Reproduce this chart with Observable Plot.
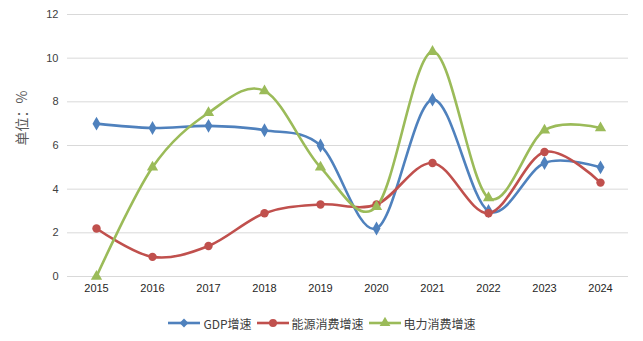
<!DOCTYPE html>
<html>
<head>
<meta charset="utf-8">
<script src="https://cdn.jsdelivr.net/npm/d3@7"></script>
<script src="https://cdn.jsdelivr.net/npm/@observablehq/plot@0.6"></script>
<style>
  html, body { margin: 0; padding: 0; background: #fff; }
  #chart { width: 643px; height: 341px; position: relative; }
  .legend { display: flex; justify-content: center; align-items: center; gap: 4px;
    font: 12px "Noto Sans CJK SC", sans-serif; color: #404040; height: 36px; padding-left: 0; }
  .legend .item { display: flex; align-items: center; gap: 2px; }
  .legend svg { display: block; }
</style>
</head>
<body>
<div id="chart"></div>
<script>
// Growth rates, %, 2015–2024
const years = ["2015","2016","2017","2018","2019","2020","2021","2022","2023","2024"];
const gdpGrowth    = [7.0, 6.8, 6.9, 6.7, 6.0, 2.2, 8.1, 3.0, 5.2, 5.0];
const energyGrowth = [2.2, 0.9, 1.4, 2.9, 3.3, 3.3, 5.2, 2.9, 5.7, 4.3];
const powerGrowth  = [0.0, 5.0, 7.5, 8.5, 5.0, 3.2, 10.3, 3.6, 6.7, 6.8];
const seriesNames  = ["GDP增速", "能源消费增速", "电力消费增速"];
const seriesColors = ["#4F81BD", "#C0504D", "#9BBB59"];
const seriesSymbols = ["diamond", "circle", "triangle"];
const yTicks = [0, 2, 4, 6, 8, 10, 12];
const yTitle = "单位：%";

const valuesBySeries = [gdpGrowth, energyGrowth, powerGrowth];
const rows = seriesNames.flatMap((name, i) =>
  years.map((year, j) => ({ series: name, year, value: valuesBySeries[i][j] })));

const plot = Plot.plot({
  width: 643,
  height: 305,
  marginLeft: 67,
  marginRight: 15,
  marginTop: 14,
  marginBottom: 29,
  style: { fontFamily: "'Liberation Sans', sans-serif", fontSize: "11px", color: "#404040", background: "#fff" },
  x: { type: "point", domain: years, padding: 0.5, label: null },
  y: { domain: [0, 12], label: null },
  color: { domain: seriesNames, range: seriesColors },
  symbol: { domain: seriesNames, range: seriesSymbols },
  marks: [
    Plot.gridY(yTicks, { stroke: "#d9d9d9", strokeOpacity: 1, strokeWidth: 1 }),
    Plot.axisY(yTicks, { tickSize: 0, tickPadding: 9, label: null, fill: "#404040" }),
    Plot.axisX({ tickSize: 0, tickPadding: 8, label: null, fill: "#262626" }),
    Plot.text([yTitle], { frameAnchor: "left", dx: -45, rotate: -90, fontSize: 14,
      fontFamily: "'Noto Sans CJK SC', sans-serif", fill: "#595959" }),
    Plot.line(rows, { x: "year", y: "value", z: "series", stroke: "series",
      curve: "cardinal", tension: 0, strokeWidth: 2.6 }),
    Plot.dot(rows, { x: "year", y: "value", fill: "series", symbol: "series", r: 4.2, stroke: "none" })
  ]
});

const chart = document.getElementById("chart");
chart.appendChild(plot);

// Legend below the chart: line swatch with the series marker, then the name
const legend = document.createElement("div");
legend.className = "legend";
seriesNames.forEach((name, i) => {
  const item = document.createElement("div");
  item.className = "item";
  const svg = d3.create("svg").attr("width", 34).attr("height", 12);
  svg.append("line").attr("x1", 1).attr("x2", 33).attr("y1", 6).attr("y2", 6)
    .attr("stroke", seriesColors[i]).attr("stroke-width", 2.6);
  const sym = { diamond: d3.symbolDiamond2, circle: d3.symbolCircle, triangle: d3.symbolTriangle }[seriesSymbols[i]];
  svg.append("path").attr("transform", "translate(17,6)")
    .attr("d", d3.symbol(sym, 50)()).attr("fill", seriesColors[i]);
  item.appendChild(svg.node());
  const label = document.createElement("span");
  label.textContent = name;
  item.appendChild(label);
  legend.appendChild(item);
});
chart.appendChild(legend);
</script>
</body>
</html>
